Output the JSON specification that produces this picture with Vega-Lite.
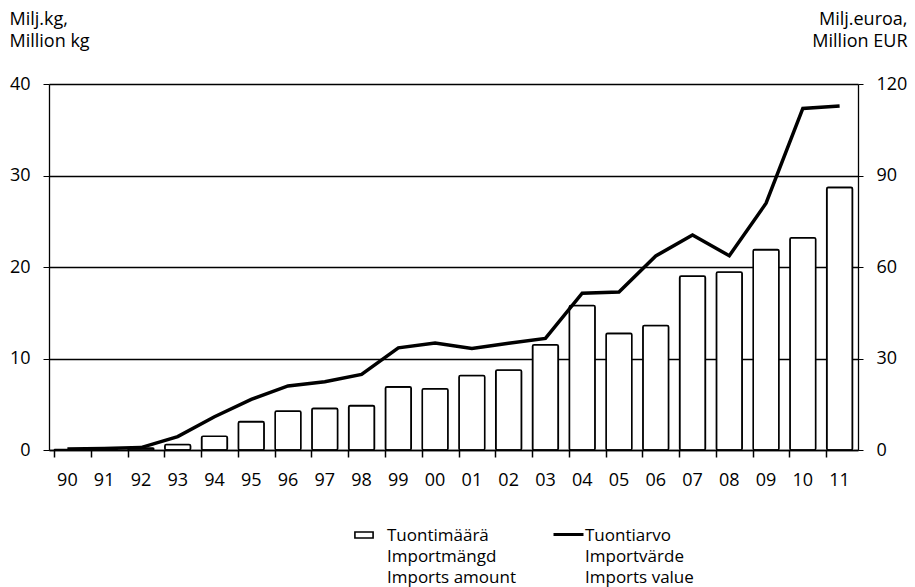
{
  "$schema": "https://vega.github.io/schema/vega-lite/v6.json",
  "width": 809,
  "height": 366,
  "autosize": {"type": "none"},
  "padding": {"left": 49, "top": 84, "right": 57, "bottom": 137},
  "background": "white",
  "config": {
    "view": {"stroke": null},
    "font": "Open Sans",
    "axis": {"labelFont": "Open Sans", "titleFont": "Open Sans", "labelColor": "black", "titleColor": "black", "domainColor": "black", "tickColor": "black"}
  },
  "data": {
    "values": [
      {"year": "90", "kg": 0.05, "eur": 0.3},
      {"year": "91", "kg": 0.1, "eur": 0.5},
      {"year": "92", "kg": 0.2, "eur": 0.8},
      {"year": "93", "kg": 0.6, "eur": 4.4},
      {"year": "94", "kg": 1.5, "eur": 10.9},
      {"year": "95", "kg": 3.1, "eur": 16.6},
      {"year": "96", "kg": 4.25, "eur": 21},
      {"year": "97", "kg": 4.55, "eur": 22.4},
      {"year": "98", "kg": 4.85, "eur": 24.8},
      {"year": "99", "kg": 6.9, "eur": 33.5},
      {"year": "00", "kg": 6.7, "eur": 35.1},
      {"year": "01", "kg": 8.15, "eur": 33.3},
      {"year": "02", "kg": 8.75, "eur": 35},
      {"year": "03", "kg": 11.5, "eur": 36.6},
      {"year": "04", "kg": 15.8, "eur": 51.4},
      {"year": "05", "kg": 12.75, "eur": 51.8},
      {"year": "06", "kg": 13.6, "eur": 63.6},
      {"year": "07", "kg": 19.0, "eur": 70.5},
      {"year": "08", "kg": 19.45, "eur": 63.7},
      {"year": "09", "kg": 21.9, "eur": 80.9},
      {"year": "10", "kg": 23.2, "eur": 112},
      {"year": "11", "kg": 28.7, "eur": 112.8}
    ]
  },
  "encoding": {
    "x": {
      "field": "year",
      "type": "ordinal",
      "sort": null,
      "scale": {"paddingInner": 0.3, "paddingOuter": 0.15},
      "axis": {
        "title": null,
        "labelAngle": 0,
        "labelFontSize": 18,
        "labelPadding": 14,
        "tickSize": 7,
        "tickWidth": 1.5,
        "bandPosition": 0,
        "domainWidth": 1.5,
        "labelBaseline": "top"
      }
    }
  },
  "layer": [
    {
      "mark": {"type": "bar", "stroke": "black", "strokeWidth": 1.6, "cornerRadius": 1.5},
      "encoding": {
        "y": {
          "field": "kg",
          "type": "quantitative",
          "scale": {"domain": [0, 40]},
          "axis": {
            "values": [0, 10, 20, 30, 40],
            "grid": true,
            "gridColor": "black",
            "gridWidth": 1.3,
            "gridOpacity": 1,
            "domainWidth": 1.3,
            "tickSize": 6,
            "labelFontSize": 18,
            "labelPadding": 13,
            "title": ["Milj.kg,", "Million kg"],
            "titleAngle": 0,
            "titleFontSize": 18,
            "titleFontWeight": "normal",
            "titleAlign": "left",
            "titleBaseline": "top",
            "titleX": -40,
            "titleY": -74,
            "titleLineHeight": 22
          }
        },
        "fill": {
          "datum": "Tuontimäärä|Importmängd|Imports amount",
          "scale": {"range": ["white"]},
          "legend": {
            "title": null,
            "orient": "none",
            "legendX": 305,
            "legendY": 441,
            "padding": 0,
            "symbolType": "M-1,-0.33H1V0.33H-1Z",
            "symbolSize": 330,
            "symbolStrokeColor": "black",
            "symbolStrokeWidth": 1.6,
            "symbolFillColor": "white",
            "labelExpr": "split(datum.label, '|')",
            "labelFont": "Open Sans",
            "labelFontSize": 17,
            "labelColor": "black",
            "labelLimit": 300,
            "labelOffset": 13,
            "labelBaseline": "alphabetic",
            "encode": {"labels": {"update": {"lineHeight": {"value": 21}, "dy": {"value": 6}}}}
          }
        }
      }
    },
    {
      "mark": {"type": "line", "strokeWidth": 3.5, "strokeJoin": "miter", "strokeCap": "butt"},
      "encoding": {
        "y": {
          "field": "eur",
          "type": "quantitative",
          "scale": {"domain": [0, 120]},
          "axis": {
            "orient": "right",
            "values": [0, 30, 60, 90, 120],
            "grid": false,
            "domainWidth": 1.3,
            "tickSize": 5,
            "labelFontSize": 18,
            "labelPadding": 13,
            "title": ["Milj.euroa,", "Million EUR"],
            "titleAngle": 0,
            "titleFontSize": 18,
            "titleFontWeight": "normal",
            "titleAlign": "right",
            "titleBaseline": "top",
            "titleX": 49,
            "titleY": -74,
            "titleLineHeight": 22
          }
        },
        "stroke": {
          "datum": "Tuontiarvo|Importvärde|Imports value",
          "scale": {"range": ["black"]},
          "legend": {
            "title": null,
            "orient": "none",
            "legendX": 503,
            "legendY": 434,
            "padding": 0,
            "symbolType": "stroke",
            "symbolSize": 900,
            "symbolStrokeWidth": 3,
            "symbolStrokeColor": "black",
            "labelExpr": "split(datum.label, '|')",
            "labelFont": "Open Sans",
            "labelFontSize": 17,
            "labelColor": "black",
            "labelLimit": 300,
            "labelOffset": 0,
            "labelBaseline": "alphabetic",
            "encode": {"labels": {"update": {"lineHeight": {"value": 21}, "dy": {"value": 6}}}}
          }
        }
      }
    }
  ],
  "resolve": {"scale": {"y": "independent"}}
}
